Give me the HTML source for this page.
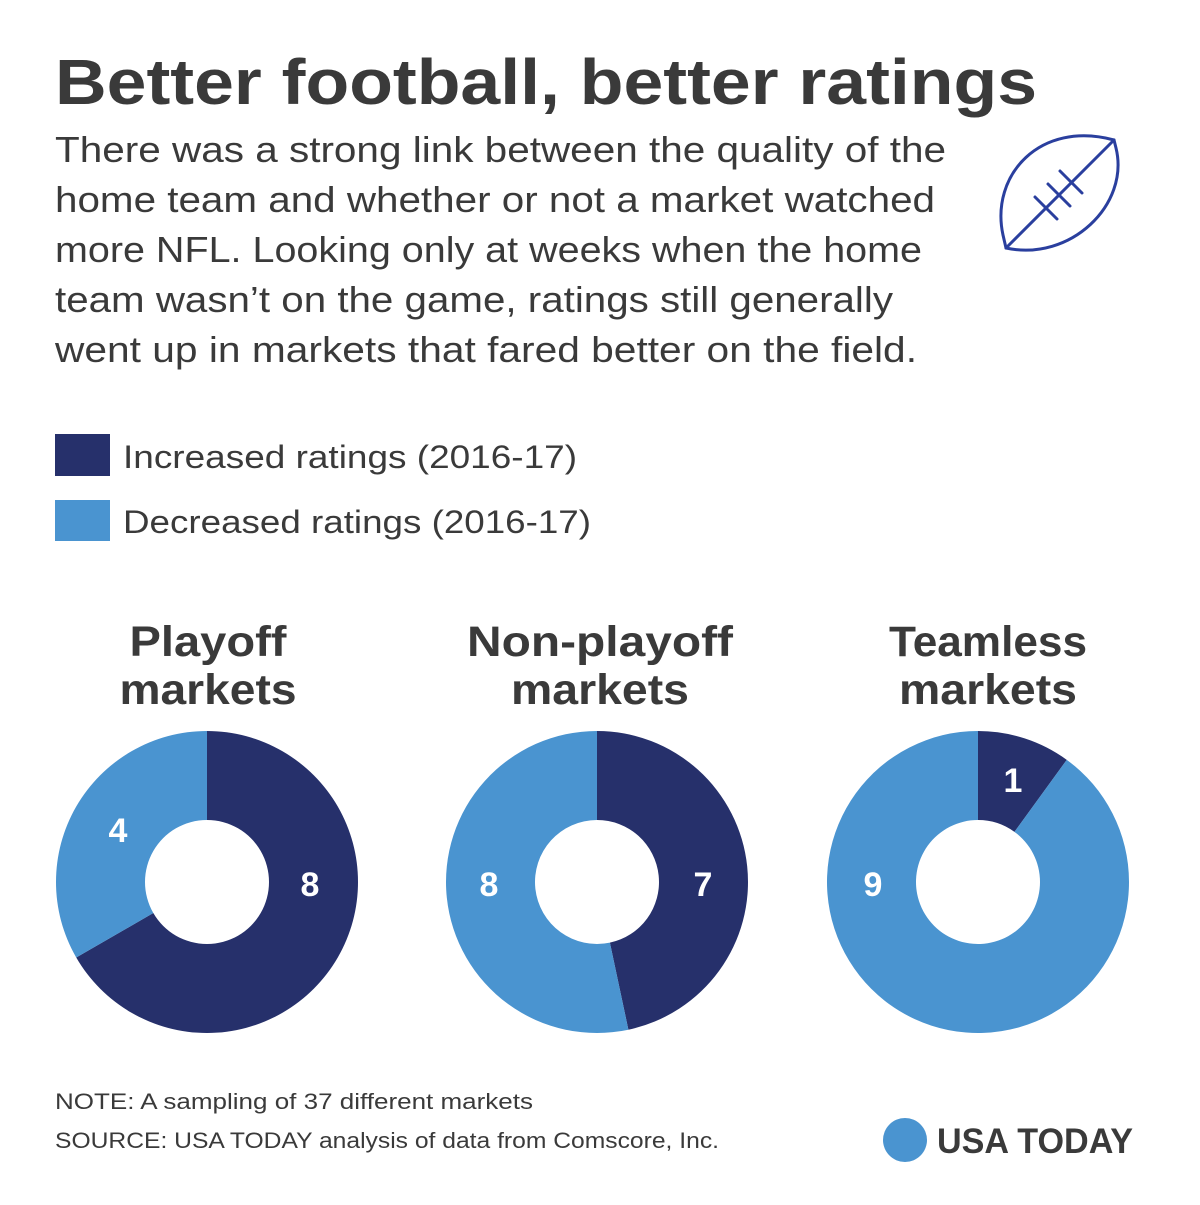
<!DOCTYPE html>
<html><head><meta charset="utf-8"><style>
body{margin:0;background:#fff;}
svg text{font-family:"Liberation Sans",sans-serif;}
</style></head><body>
<svg id="chart" width="1200" height="1200" viewBox="0 0 1200 1200" xmlns="http://www.w3.org/2000/svg">
<rect width="1200" height="1200" fill="#fff"/>
<text x="55" y="104" font-size="64" font-weight="bold" fill="#3a3a3a" textLength="982" lengthAdjust="spacingAndGlyphs">Better football, better ratings</text>
<g fill="#3a3a3a" font-size="36">
<text x="55" y="162" textLength="891" lengthAdjust="spacingAndGlyphs">There was a strong link between the quality of the</text>
<text x="55" y="212" textLength="880" lengthAdjust="spacingAndGlyphs">home team and whether or not a market watched</text>
<text x="55" y="262" textLength="867" lengthAdjust="spacingAndGlyphs">more NFL. Looking only at weeks when the home</text>
<text x="55" y="312" textLength="838" lengthAdjust="spacingAndGlyphs">team wasn’t on the game, ratings still generally</text>
<text x="55" y="362" textLength="862" lengthAdjust="spacingAndGlyphs">went up in markets that fared better on the field.</text>
</g>
<g fill="none" stroke="#2a3f9e" stroke-width="3" stroke-linecap="round">
<path d="M1114,140 C1040,120 990,175 1003,235 L1006,248 C1070,262 1130,205 1116,148 Z"/>
<line x1="1114" y1="140" x2="1006" y2="248"/>
<line x1="1060" y1="171" x2="1082" y2="193"/>
<line x1="1048" y1="184" x2="1070" y2="206"/>
<line x1="1035" y1="197" x2="1057" y2="219"/>
</g>
<g>
<rect x="55" y="434" width="55" height="42" fill="#26306b"/>
<text x="123" y="468" font-size="32" fill="#3a3a3a" textLength="454" lengthAdjust="spacingAndGlyphs">Increased ratings (2016-17)</text>
<rect x="55" y="500" width="55" height="41" fill="#4a94d0"/>
<text x="123" y="533" font-size="32" fill="#3a3a3a" textLength="468" lengthAdjust="spacingAndGlyphs">Decreased ratings (2016-17)</text>
</g>
<g id="donuts"></g>
<text x="55" y="1109" font-size="22" fill="#3a3a3a" textLength="478" lengthAdjust="spacingAndGlyphs">NOTE: A sampling of 37 different markets</text>
<text x="55" y="1148" font-size="22" fill="#3a3a3a" textLength="664" lengthAdjust="spacingAndGlyphs">SOURCE: USA TODAY analysis of data from Comscore, Inc.</text>
<circle cx="905" cy="1140" r="22" fill="#4a94d0"/>
<text x="937" y="1153" font-size="35" font-weight="bold" fill="#3a3a3a" textLength="196" lengthAdjust="spacingAndGlyphs">USA TODAY</text>
</svg>
<script>
const categories = ["Playoff markets", "Non-playoff markets", "Teamless markets"];
const increased = [8, 7, 1];
const decreased = [4, 8, 9];
const titleLines = [["Playoff","markets"],["Non-playoff","markets"],["Teamless","markets"]];
const titleWidths = [[157,177],[266,178],[198,178]];
const titleX = [208, 600, 988];
const centersX = [207, 597, 978];
const cy = 882, R = 151, r = 62;
const incLabelPos = [[310,884],[703,884],[1013,780]];
const decLabelPos = [[118,830],[489,884],[873,884]];
const NS = "http://www.w3.org/2000/svg";
const g = document.getElementById("donuts");
function pt(cx, rad, frac){const a=frac*2*Math.PI;return [cx+rad*Math.sin(a), cy-rad*Math.cos(a)];}
function arc(cx, f0, f1){
  if (f1-f0>=1) f1=f0+0.9999;
  const large=(f1-f0)>0.5?1:0;
  const [x0,y0]=pt(cx,R,f0),[x1,y1]=pt(cx,R,f1),[x2,y2]=pt(cx,r,f1),[x3,y3]=pt(cx,r,f0);
  return `M${x0},${y0} A${R},${R} 0 ${large} 1 ${x1},${y1} L${x2},${y2} A${r},${r} 0 ${large} 0 ${x3},${y3} Z`;
}
categories.forEach((c,i)=>{
  const cx=centersX[i];
  const total=increased[i]+decreased[i];
  const fi=increased[i]/total;
  titleLines[i].forEach((t,j)=>{
    const tx=document.createElementNS(NS,"text");
    
    
    tx.setAttribute("x",titleX[i]);tx.setAttribute("y",656+j*48);
    tx.setAttribute("text-anchor","middle");tx.setAttribute("font-size","43");
    tx.setAttribute("font-weight","bold");tx.setAttribute("fill","#3a3a3a");
    tx.setAttribute("textLength",titleWidths[i][j]);tx.setAttribute("lengthAdjust","spacingAndGlyphs");
    tx.textContent=t;g.appendChild(tx);
  });
  const p1=document.createElementNS(NS,"path");
  
  
  p1.setAttribute("d",arc(cx,0,fi));p1.setAttribute("fill","#26306b");g.appendChild(p1);
  const p2=document.createElementNS(NS,"path");
  
  
  p2.setAttribute("d",arc(cx,fi,1));p2.setAttribute("fill","#4a94d0");g.appendChild(p2);
  [[increased[i],incLabelPos[i]],[decreased[i],decLabelPos[i]]].forEach(([v,p],k)=>{
    const t=document.createElementNS(NS,"text");
    
    
    t.setAttribute("x",p[0]);t.setAttribute("y",p[1]+12);
    t.setAttribute("text-anchor","middle");t.setAttribute("font-size","34");
    t.setAttribute("font-weight","bold");t.setAttribute("fill","#fff");
    t.textContent=v;g.appendChild(t);
  });
});
</script>
</body></html>
